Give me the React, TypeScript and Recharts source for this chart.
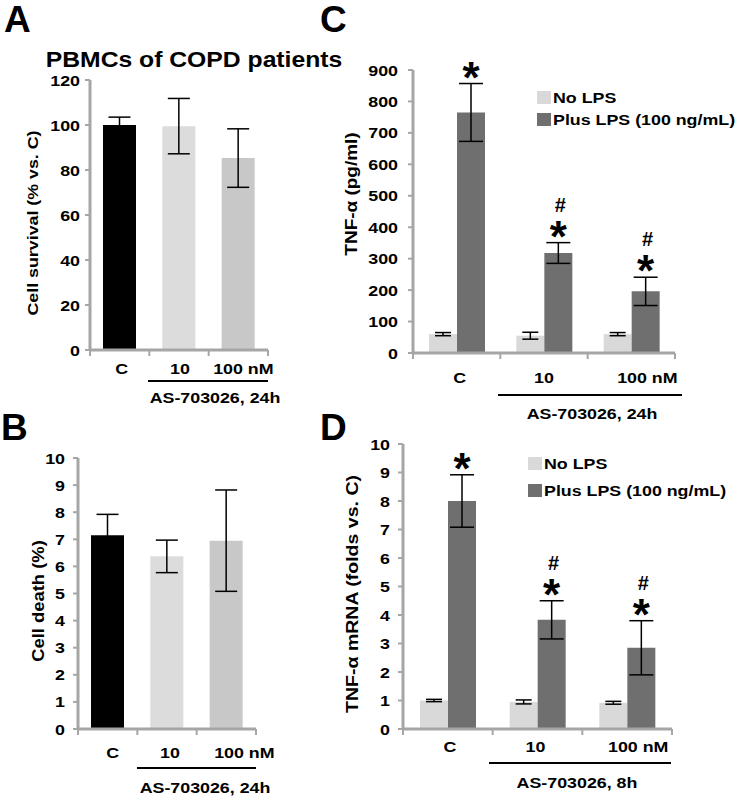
import React from 'react';
import { BarChart, Bar, XAxis, YAxis, ErrorBar, Cell, LabelList, Legend } from 'recharts';

const FONT = '"Liberation Sans", Arial, Helvetica, sans-serif';
const SX = 1.15; // the original text is drawn a bit wider than plain Arial
const AXIS = '#a6a6a6';

const groups = ['C', '10', '100 nM'];

// A: cell survival
const survival = [100, 99.5, 85.3];
const survivalErr = [3.5, 12.3, 13];
const survivalTicks = [0, 20, 40, 60, 80, 100, 120];
const singleColors = ['#000000', '#dcdcdc', '#c8c8c8'];

// B: cell death
const death = [7.15, 6.37, 6.95];
const deathErr = [0.77, 0.6, 1.87];
const deathTicks = [0, 1, 2, 3, 4, 5, 6, 7, 8, 9, 10];

// C: TNF-a protein
const seriesNames = ['No LPS', 'Plus LPS (100 ng/mL)'];
const pairColors = ['#d9d9d9', '#6f6f6f'];
const tnfNoLps = [60, 55, 60];
const tnfNoLpsErr = [5, 11, 5];
const tnfLps = [765, 318, 196];
const tnfLpsErr = [92, 33, 45];
const tnfTicks = [0, 100, 200, 300, 400, 500, 600, 700, 800, 900];

// D: TNF-a mRNA
const mrnaNoLps = [1.0, 0.95, 0.92];
const mrnaNoLpsErr = [0.04, 0.07, 0.05];
const mrnaLps = [8.0, 3.83, 2.85];
const mrnaLpsErr = [0.92, 0.67, 0.95];
const mrnaTicks = [0, 1, 2, 3, 4, 5, 6, 7, 8, 9, 10];

const stars = ['*', '*', '*'];
const hashes = ['', '#', '#'];

type Frame = {
  left: number; top: number; width: number; height: number;
  plotLeft: number; plotTop: number; plotRight: number; plotBottom: number;
  tickMargin: number; labelDy: number; labelShift: number[];
};

const frameA: Frame = { left: 0, top: 0, width: 310, height: 400, plotLeft: 90, plotTop: 80, plotRight: 268, plotBottom: 350, tickMargin: 5, labelDy: 24, labelShift: [2, 1, 5] };
const frameB: Frame = { left: 0, top: 400, width: 310, height: 398, plotLeft: 78, plotTop: 58, plotRight: 256, plotBottom: 329, tickMargin: 8, labelDy: 29, labelShift: [5, 3, 18] };
const frameC: Frame = { left: 320, top: 0, width: 417, height: 400, plotLeft: 93, plotTop: 70, plotRight: 355, plotBottom: 353, tickMargin: 10, labelDy: 30, labelShift: [3, 0, 16] };
const frameD: Frame = { left: 320, top: 400, width: 417, height: 398, plotLeft: 83, plotTop: 44, plotRight: 352, plotBottom: 329, tickMargin: 8, labelDy: 23, labelShift: [2, -2, 11] };

function Txt({ x, y, size, children, anchor = 'middle', rotate = 0, sx = SX, dy }: any) {
  return (
    <text
      transform={`translate(${x},${y}) rotate(${rotate}) scale(${sx},1)`}
      textAnchor={anchor}
      dy={dy}
      fontSize={size}
      fontWeight={700}
      fontFamily={FONT}
      fill="#000"
    >
      {children}
    </text>
  );
}

function makeXTick(f: Frame) {
  const band = (f.plotRight - f.plotLeft) / groups.length;
  return (p: any) => {
    const last = p.index === groups.length - 1;
    return (
      <g>
        <line x1={p.x - band / 2} x2={p.x - band / 2} y1={f.plotBottom} y2={f.plotBottom + 6} stroke={AXIS} strokeWidth={2} />
        {last && <line x1={p.x + band / 2} x2={p.x + band / 2} y1={f.plotBottom} y2={f.plotBottom + 6} stroke={AXIS} strokeWidth={2} />}
        <Txt x={p.x + (f.labelShift[p.index] ?? 0)} y={f.plotBottom + f.labelDy} size={15.5}>{p.payload.value}</Txt>
      </g>
    );
  };
}

const yTick = (p: any) => (
  <Txt x={p.x} y={p.y} size={15.5} anchor="end" dy="0.36em">{p.payload.value}</Txt>
);

function chartMargin(f: Frame) {
  return { top: f.plotTop, right: f.width - f.plotRight, left: 0, bottom: f.height - f.plotBottom - 30 };
}

function SinglePanel({ f, values, errs, ticks }: { f: Frame; values: number[]; errs: number[]; ticks: number[] }) {
  const data = groups.map((g, i) => ({ group: g, value: values[i], err: errs[i] }));
  return (
    <div style={{ position: 'absolute', left: f.left, top: f.top }}>
      <BarChart width={f.width} height={f.height} data={data} margin={chartMargin(f)}>
        <XAxis dataKey="group" height={30} axisLine={{ stroke: AXIS, strokeWidth: 3 }} tickLine={false} tick={makeXTick(f)} interval={0} />
        <YAxis
          width={f.plotLeft}
          domain={[ticks[0], ticks[ticks.length - 1]]}
          ticks={ticks}
          interval={0}
          axisLine={{ stroke: AXIS, strokeWidth: 3 }}
          tickLine={{ stroke: AXIS, strokeWidth: 2 }}
          tickSize={5}
          tickMargin={f.tickMargin}
          tick={yTick}
        />
        <Bar dataKey="value" barSize={33} isAnimationActive={false}>
          {data.map((d, i) => (
            <Cell key={d.group} fill={singleColors[i]} />
          ))}
          <ErrorBar dataKey="err" width={11} strokeWidth={1.5} stroke="#000" isAnimationActive={false} />
        </Bar>
      </BarChart>
    </div>
  );
}

// star (and hash) sitting above each LPS error bar
function makeMarks(vals: number[], errs: number[]) {
  return (p: any) => {
    const vb = p.viewBox ?? p;
    const i = p.index;
    const h = Math.abs(vb.height);
    const top = vb.y - errs[i] * (h / vals[i]);
    const cx = vb.x + vb.width / 2;
    const starC = top - 14;
    return (
      <g>
        <text x={cx} y={starC + 23} textAnchor="middle" fontSize={44} fontWeight={700} fontFamily={FONT}>{stars[i]}</text>
        {hashes[i] && (
          <text x={cx + 2} y={starC - 17} textAnchor="middle" fontSize={20} fontWeight={700} fontFamily={FONT}>{hashes[i]}</text>
        )}
      </g>
    );
  };
}

function makeLegend(spacing: number) {
  return (p: any) => (
    <svg width={200} height={spacing + 20} style={{ display: 'block', overflow: 'visible' }}>
      {(p.payload ?? []).map((e: any, i: number) => (
        <g key={e.value}>
          <rect x={0} y={i * spacing} width={14} height={13} fill={e.color} />
          <Txt x={16} y={i * spacing + 12} size={15.5} anchor="start">{e.value}</Txt>
        </g>
      ))}
    </svg>
  );
}

function PairPanel({ f, no, noErr, lps, lpsErr, ticks, legendPos, spacing }: any) {
  const data = groups.map((g, i) => ({ group: g, no: no[i], noErr: noErr[i], lps: lps[i], lpsErr: lpsErr[i] }));
  return (
    <div style={{ position: 'absolute', left: f.left, top: f.top }}>
      <BarChart width={f.width} height={f.height} data={data} margin={chartMargin(f)} barGap={0}>
        <XAxis dataKey="group" height={30} axisLine={{ stroke: AXIS, strokeWidth: 3 }} tickLine={false} tick={makeXTick(f)} interval={0} />
        <YAxis
          width={f.plotLeft}
          domain={[ticks[0], ticks[ticks.length - 1]]}
          ticks={ticks}
          interval={0}
          axisLine={{ stroke: AXIS, strokeWidth: 3 }}
          tickLine={{ stroke: AXIS, strokeWidth: 2 }}
          tickSize={5}
          tickMargin={f.tickMargin}
          tick={yTick}
        />
        <Legend
          layout="vertical"
          align="center"
          verticalAlign="middle"
          wrapperStyle={{ position: 'absolute', left: legendPos[0], top: legendPos[1], width: 200, height: spacing + 20 }}
          content={makeLegend(spacing)}
        />
        <Bar dataKey="no" name={seriesNames[0]} fill={pairColors[0]} barSize={28} isAnimationActive={false}>
          <ErrorBar dataKey="noErr" width={8} strokeWidth={1.5} stroke="#000" isAnimationActive={false} />
        </Bar>
        <Bar dataKey="lps" name={seriesNames[1]} fill={pairColors[1]} barSize={28} isAnimationActive={false}>
          <ErrorBar dataKey="lpsErr" width={12} strokeWidth={1.5} stroke="#000" isAnimationActive={false} />
          <LabelList dataKey="lps" content={makeMarks(lps, lpsErr)} />
        </Bar>
      </BarChart>
    </div>
  );
}

function Overlay() {
  return (
    <svg width={737} height={798} style={{ position: 'absolute', left: 0, top: 0, pointerEvents: 'none' }}>
      {/* panel letters */}
      <Txt x={4} y={32} size={37} anchor="start" sx={1}>A</Txt>
      <Txt x={1} y={440} size={37} anchor="start" sx={1}>B</Txt>
      <Txt x={320} y={32} size={37} anchor="start" sx={1}>C</Txt>
      <Txt x={320} y={440} size={37} anchor="start" sx={1}>D</Txt>

      <Txt x={194} y={67} size={21.5}>PBMCs of COPD patients</Txt>

      {/* y axis titles */}
      <Txt x={32} y={223} size={15.5} rotate={-90} dy="0.36em">Cell survival (% vs. C)</Txt>
      <Txt x={38} y={601} size={16} rotate={-90} dy="0.36em">Cell death (%)</Txt>
      <Txt x={351} y={194} size={16.5} rotate={-90} dy="0.36em">TNF-α (pg/ml)</Txt>
      <Txt x={352} y={594} size={17} rotate={-90} dy="0.36em">TNF-α mRNA (folds vs. C)</Txt>

      {/* treatment brackets */}
      <line x1={148} x2={268} y1={381} y2={381} stroke="#000" strokeWidth={2} />
      <Txt x={215} y={403} size={15.5}>AS-703026, 24h</Txt>
      <line x1={137} x2={256} y1={768} y2={768} stroke="#000" strokeWidth={2} />
      <Txt x={205} y={793} size={15.5}>AS-703026, 24h</Txt>
      <line x1={498} x2={682} y1={395} y2={395} stroke="#000" strokeWidth={2} />
      <Txt x={592} y={419} size={15.5}>AS-703026, 24h</Txt>
      <line x1={489} x2={671} y1={763} y2={763} stroke="#000" strokeWidth={2} />
      <Txt x={577} y={788} size={15.5}>AS-703026, 8h</Txt>
    </svg>
  );
}

export default function App() {
  return (
    <div style={{ position: 'absolute', left: 0, top: 0, width: 737, height: 798, background: '#fff', fontFamily: FONT }}>
      <SinglePanel f={frameA} values={survival} errs={survivalErr} ticks={survivalTicks} />
      <SinglePanel f={frameB} values={death} errs={deathErr} ticks={deathTicks} />
      <PairPanel f={frameC} no={tnfNoLps} noErr={tnfNoLpsErr} lps={tnfLps} lpsErr={tnfLpsErr} ticks={tnfTicks} legendPos={[217, 91]} spacing={22} />
      <PairPanel f={frameD} no={mrnaNoLps} noErr={mrnaNoLpsErr} lps={mrnaLps} lpsErr={mrnaLpsErr} ticks={mrnaTicks} legendPos={[208, 57]} spacing={27} />
      <Overlay />
    </div>
  );
}
